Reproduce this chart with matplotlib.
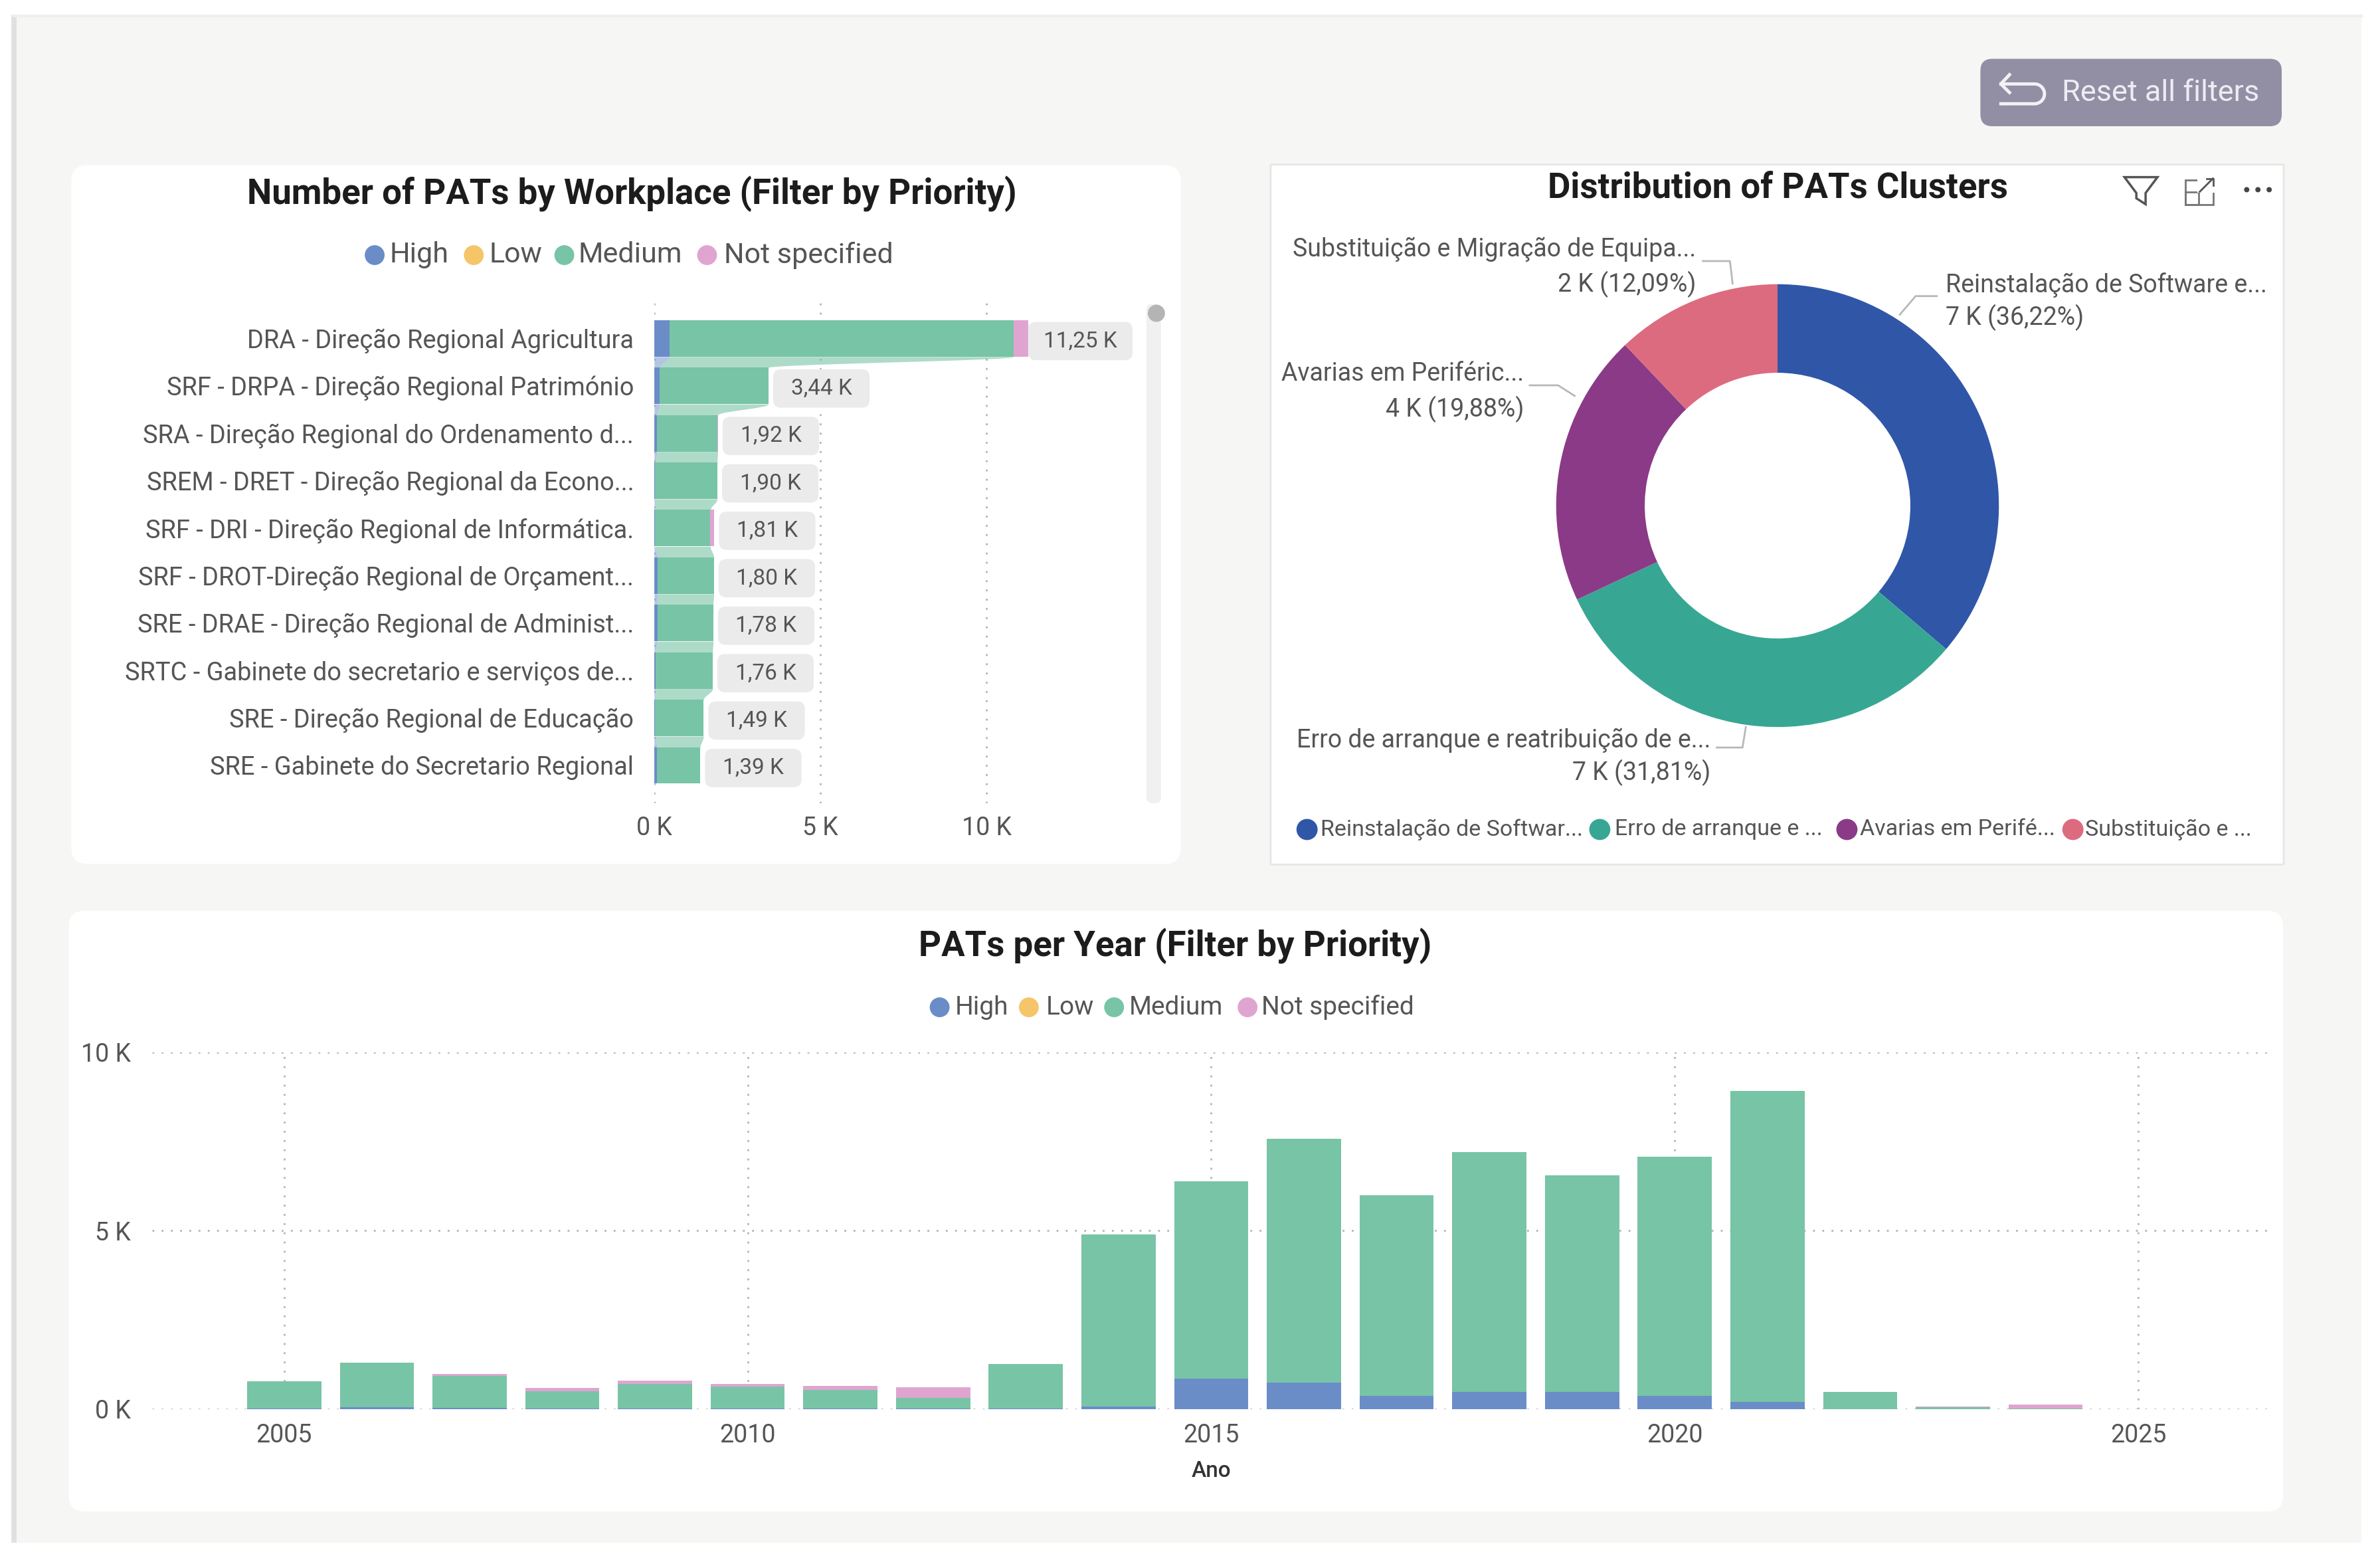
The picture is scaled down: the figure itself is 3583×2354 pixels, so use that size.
import numpy as np
import matplotlib
matplotlib.use('Agg')
import matplotlib.pyplot as plt
from matplotlib.patches import FancyBboxPatch, Rectangle, Polygon

W, H = 3583, 2354
S = 0.9948  # layout numbers below were measured on a view slightly larger than the file
plt.rcParams['font.family'] = ['Roboto', 'DejaVu Sans']

# Data
priorities = ['High', 'Low', 'Medium', 'Not specified']
colors = ['#6A8DC8', '#F5C56A', '#78C4A6', '#DFA5D0']

workplaces = ['DRA - Direção Regional Agricultura',
              'SRF - DRPA - Direção Regional Património',
              'SRA - Direção Regional do Ordenamento d...',
              'SREM - DRET - Direção Regional da Econo...',
              'SRF - DRI - Direção Regional de Informática.',
              'SRF - DROT-Direção Regional de Orçament...',
              'SRE - DRAE - Direção Regional de Administ...',
              'SRTC - Gabinete do secretario e serviços de...',
              'SRE - Direção Regional de Educação',
              'SRE - Gabinete do Secretario Regional']
wp_labels = ['11,25 K', '3,44 K', '1,92 K', '1,90 K', '1,81 K',
             '1,80 K', '1,78 K', '1,76 K', '1,49 K', '1,39 K']
wp_high = [460, 170, 90, 30, 20, 110, 100, 40, 30, 90]
wp_low = [0, 0, 0, 0, 0, 0, 0, 0, 0, 0]
wp_medium = [10360, 3265, 1820, 1865, 1670, 1685, 1675, 1715, 1455, 1295]
wp_other = [430, 5, 10, 5, 120, 5, 5, 5, 5, 5]

years = [2005, 2006, 2007, 2008, 2009, 2010, 2011, 2012, 2013, 2014,
         2015, 2016, 2017, 2018, 2019, 2020, 2021, 2022, 2023, 2024]
yr_high = [20, 60, 30, 10, 10, 10, 10, 10, 15, 80,
           860, 740, 380, 480, 480, 370, 200, 5, 5, 0]
yr_low = [0] * 20
yr_medium = [760, 1250, 890, 500, 690, 620, 535, 300, 1250, 4820,
             5520, 6840, 5620, 6730, 6080, 6700, 8720, 475, 45, 20]
yr_other = [0, 0, 60, 90, 100, 70, 110, 310, 0, 0,
            0, 0, 0, 0, 0, 0, 0, 0, 30, 100]

clusters = ['Reinstalação de Softwar...', 'Erro de arranque e ...',
            'Avarias em Perifé...', 'Substituição e ...']
cluster_long = ['Reinstalação de Software e...',
                'Erro de arranque e reatribuição de e...',
                'Avarias em Periféric...',
                'Substituição e Migração de Equipa...']
cluster_pct = [36.22, 31.81, 19.88, 12.09]
cluster_vals = ['7 K', '7 K', '4 K', '2 K']
cluster_colors = ['#3056A8', '#37A794', '#8B3A87', '#DD6B7F']


def px_axes(x0, y0, x1, y1):
    x0, y0, x1, y1 = x0 * S, y0 * S, x1 * S, y1 * S
    return fig.add_axes([x0 / W, 1 - y1 / H, (x1 - x0) / W, (y1 - y0) / H])


def panel(x0, y0, x1, y1, round_px=24, edge='none'):
    bg.add_patch(FancyBboxPatch((x0 + round_px, y0 + round_px), x1 - x0 - 2 * round_px,
                                y1 - y0 - 2 * round_px,
                                boxstyle=f'round,pad={round_px},rounding_size={round_px}',
                                fc='white', ec=edge, lw=2))


def legend(xs_dot, xs_text, y, labels, cols, size, r=15):
    for xd, xt, lab, c in zip(xs_dot, xs_text, labels, cols):
        bg.add_patch(plt.Circle((xd, y), r, fc=c, ec='none', zorder=3))
        bg.text(xt, y, lab, fontsize=size, color='#555555', ha='left', va='center')


fig = plt.figure(figsize=(W / 100, H / 100), dpi=100, facecolor='white')

# Background layer in pixel coordinates
bg = fig.add_axes([0, 0, 1, 1])
bg.set_xlim(0, W / S)
bg.set_ylim(H / S, 0)
bg.axis('off')
bg.add_patch(Rectangle((21, 23), 3553, 2311, fc='#F6F6F4', ec='none'))
bg.plot([21, 21], [23, 2334], color='#E0E0E0', lw=5.5, solid_capstyle='butt')
bg.plot([21, 3574], [24, 24], color='#EFEFEF', lw=3)

panel(108, 250, 1787, 1307)
panel(1923, 249, 3456, 1308, round_px=1, edge='#E6E6E6')
panel(104, 1378, 3455, 2287)

# Reset button
bg.add_patch(FancyBboxPatch((3015, 107), 420, 66, boxstyle='round,pad=18,rounding_size=18',
                            fc='#928FA5', ec='none'))
bg.text(3120, 141, 'Reset all filters', fontsize=32.5, color='#ECECF2', ha='left', va='center')
arc = np.linspace(np.pi / 2, -np.pi / 2, 20)
arrow_x = np.r_[3028, 3079 + 15 * np.cos(arc), 3028]
arrow_y = np.r_[127, 142 - 15 * np.sin(arc), 157]
bg.plot(arrow_x, arrow_y, color='#F2F2F6', lw=3.5)
bg.plot([3041, 3028, 3041], [113, 127, 140], color='#F2F2F6', lw=3.5)

# Titles
title_kw = dict(fontsize=38, fontweight='bold', color='#1C1C1C', ha='center', va='center')
bg.text(956, 293, 'Number of PATs by Workplace (Filter by Priority)', **title_kw)
bg.text(2690, 284, 'Distribution of PATs Clusters', **title_kw)
bg.text(1778, 1431, 'PATs per Year (Filter by Priority)', **title_kw)

legend([567, 717, 854, 1070], [590, 740, 875, 1096], 386, priorities, colors, 31)
legend([1422, 1557, 1686, 1888], [1445, 1583, 1709, 1909], 1524, priorities, colors, 28)

# Ribbon bar chart
ax1 = px_axes(990, 455, 1720, 1215)
px_per_row = 71.8
ax1.set_xlim(0, 730 / 50.3 * 1000)
ax1.set_ylim(9 + 57 / px_per_row, -57 / px_per_row)
high = np.array(wp_high)
low = np.array(wp_low)
medium = np.array(wp_medium)
other = np.array(wp_other)
rows = np.arange(len(workplaces))
bar_h = 0.77
ax1.barh(rows, high, height=bar_h, color=colors[0], zorder=3)
ax1.barh(rows, low, left=high, height=bar_h, color=colors[1], zorder=3)
ax1.barh(rows, medium, left=high + low, height=bar_h, color=colors[2], zorder=3)
ax1.barh(rows, other, left=high + low + medium, height=bar_h, color=colors[3], zorder=3)

# ribbons between consecutive rows
for i in rows[:-1]:
    yy = np.linspace(i + bar_h / 2, i + 1 - bar_h / 2, 30)
    t = (yy - yy[0]) / (yy[-1] - yy[0])
    s = t * t * (3 - 2 * t)
    left0, right0 = high[i], high[i] + low[i] + medium[i]
    left1, right1 = high[i + 1], high[i + 1] + low[i + 1] + medium[i + 1]
    ax1.fill_betweenx(yy, left0 + (left1 - left0) * s, right0 + (right1 - right0) * s,
                      color=colors[2], alpha=0.6, lw=0, zorder=2)
    ax1.fill_betweenx(yy, 0, left0 + (left1 - left0) * s, color=colors[0], alpha=0.5, lw=0, zorder=2)

ax1.set_yticks(rows, workplaces)
ax1.set_xticks([0, 5000, 10000], ['0 K', '5 K', '10 K'])
ax1.tick_params(axis='y', length=0, pad=22, labelsize=27.4, labelcolor='#555555')
ax1.tick_params(axis='x', length=0, pad=14, labelsize=27, labelcolor='#555555')
ax1.grid(axis='x', linestyle=(0, (1, 4)), color='#B4B4B4', lw=2, zorder=0)
ax1.set_axisbelow(True)
ax1.patch.set_alpha(0)
for sp in ax1.spines.values():
    sp.set_visible(False)

# value pills, placed from the bar ends
totals = high + low + medium + other
to_bg = ax1.transData + bg.transData.inverted()
for i in rows:
    x_end, y_mid = to_bg.transform((totals[i], i))
    y_mid += 4
    gap = 0 if i == 0 else 7
    pill_w = 158 if i == 0 else 146
    ax1.add_patch(FancyBboxPatch((x_end + gap + 12, y_mid - 17), pill_w - 24, 34,
                                 boxstyle='round,pad=12,rounding_size=12', fc='#EBEBEB', ec='none',
                                 transform=bg.transData, zorder=4, clip_on=False))
    ax1.text(x_end + gap + pill_w / 2, y_mid, wp_labels[i], transform=bg.transData, fontsize=24,
             color='#555555', ha='center', va='center', zorder=5, clip_on=False)

# Scrollbar
bg.add_patch(FancyBboxPatch((1740, 465), 12, 745, boxstyle='round,pad=5,rounding_size=8',
                            fc='#F0F0F0', ec='none'))
bg.add_patch(plt.Circle((1750, 474), 13, fc='#B4B4B4', ec='none', zorder=3))

# Donut
ax2 = px_axes(2690 - 335, 765 - 335, 2690 + 335, 765 + 335)
ax2.pie(cluster_pct, colors=cluster_colors, startangle=90, counterclock=False, radius=1,
        wedgeprops=dict(width=0.4, linewidth=0))
ax2.set_xlim(-1, 1)
ax2.set_ylim(-1, 1)
ax2.set_aspect('equal')

lab_pos = [(2944, 431, 480, 'left'), (2589, 1120, 1169, 'right'),
           (2306, 565, 619, 'right'), (2567, 377, 430, 'right')]
leaders = [[(2931, 448), (2899, 448), (2875, 476)],
           [(2598, 1131), (2637, 1131), (2642, 1100)],
           [(2315, 583), (2358, 583), (2383, 599)],
           [(2577, 395), (2618, 395), (2622, 429)]]
for i, (x, y1, y2, ha) in enumerate(lab_pos):
    bg.text(x, y1, cluster_long[i], fontsize=27, color='#555555', ha=ha, va='center')
    bg.text(x, y2, f'{cluster_vals[i]} ({cluster_pct[i]:.2f}%)'.replace('.', ','), fontsize=27,
            color='#555555', ha=ha, va='center')
    pts = np.array(leaders[i])
    bg.plot(pts[:, 0], pts[:, 1], color='#B8B8B8', lw=2)

legend([1978, 2421, 2795, 3137], [1998, 2444, 2815, 3155], 1255, clusters, cluster_colors, 24.5, r=16)

# Visual header icons
bg.add_patch(Polygon([(3215, 268), (3265, 268), (3247, 292), (3247, 309), (3233, 300), (3233, 292)],
                     fc='none', ec='#555555', lw=2.5))
bg.add_patch(Rectangle((3307, 272), 42, 38, fc='none', ec='#777777', lw=2))
bg.add_patch(Rectangle((3307, 291), 20, 19, fc='none', ec='#777777', lw=2))
bg.add_patch(Rectangle((3325, 268), 30, 24, fc='white', ec='none'))
bg.plot([3329, 3349], [290, 270], color='#555555', lw=2)
bg.plot([3339, 3349, 3349], [270, 270, 280], color='#555555', lw=2)
for xd in (3400, 3417, 3434):
    bg.add_patch(plt.Circle((xd, 287), 4, fc='#444444', ec='none'))

# Yearly stacked bars
ax3 = px_axes(230, 1592, 3434, 2132)
ax3.set_xlim(2005 - 200 / 140.3, 2005 + 3004 / 140.3)
ax3.set_ylim(0, 10000)
yr = np.array(years)
bottom = np.zeros(len(yr))
for vals, c in zip([yr_high, yr_low, yr_medium, yr_other], colors):
    ax3.bar(yr, vals, bottom=bottom, width=0.8, color=c, zorder=3)
    bottom += np.array(vals)
ax3.set_xticks([2005, 2010, 2015, 2020, 2025])
ax3.set_yticks([0, 5000, 10000], ['0 K', '5 K', '10 K'])
ax3.tick_params(axis='both', length=0, labelsize=27, labelcolor='#555555')
ax3.tick_params(axis='x', pad=15)
ax3.tick_params(axis='y', pad=23)
ax3.grid(True, linestyle=(0, (1, 4)), color='#B4B4B4', lw=2, zorder=0)
ax3.set_axisbelow(True)
ax3.patch.set_alpha(0)
for sp in ax3.spines.values():
    sp.set_visible(False)
bg.text(1833, 2226, 'Ano', fontsize=24, color='#333333', ha='center', va='center', fontweight='medium')

fig.savefig('out.png', dpi=100)
